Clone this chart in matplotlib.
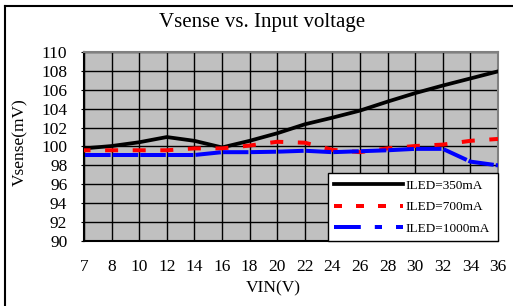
import matplotlib
matplotlib.use("Agg")
import matplotlib.pyplot as plt
from matplotlib.lines import Line2D
import numpy as np

vin_labels = ["7", "8", "10", "12", "14", "16", "18", "20", "22", "24", "26", "28", "30", "32", "34", "36"]
ild_350 = [99.8, 100.05, 100.45, 101.0, 100.6, 99.9, 100.6, 101.4, 102.35, 103.05, 103.8, 104.75, 105.65, 106.45, 107.2, 107.95]
ild_700 = [99.6, 99.6, 99.6, 99.6, 99.8, 99.8, 100.1, 100.5, 100.4, 99.65, 99.4, 99.8, 100.05, 100.2, 100.6, 100.8]
ild_1000 = [99.1, 99.1, 99.1, 99.1, 99.1, 99.4, 99.4, 99.45, 99.55, 99.4, 99.5, 99.6, 99.75, 99.75, 98.4, 98.0]
y_ticks = list(range(90, 111, 2))

plt.rcParams['font.family'] = ['Liberation Serif', 'DejaVu Serif']

W, H = 513, 306
fig = plt.figure(figsize=(W / 100, H / 100), dpi=100)
fig.patch.set_facecolor('white')

ax = fig.add_axes([84 / W, 1 - 241 / H, 414 / W, 189 / H])
ax.set_facecolor('#c0c0c0')
x = np.arange(len(vin_labels))

lw = 2.88  # ~4 px
ax.plot(x, ild_350, color='black', lw=2.7, solid_joinstyle='round', zorder=3)
ax.plot(x, ild_700, color='#ff0000', lw=lw, zorder=4, linestyle=(1.625, (3.25, 3.65)))
ax.plot(x, ild_1000, color='#0000ff', lw=lw, zorder=5, linestyle=(6.65, (6.4, 0.5)))

ax.set_xlim(0, len(vin_labels) - 1)
ax.set_ylim(90, 110)
ax.set_xticks(x)
ax.set_xticklabels(vin_labels)
ax.set_yticks(y_ticks)
ax.grid(True, color='black', lw=1.0, zorder=1)
ax.set_axisbelow(True)
ax.tick_params(axis='x', length=0, pad=13, labelsize=12.5)
ax.tick_params(axis='y', length=2, pad=10, labelsize=12.5)
for s in ['left', 'bottom']:
    ax.spines[s].set_color('black')
    ax.spines[s].set_linewidth(1.5)
for s in ['top', 'right']:
    ax.spines[s].set_color('#808080')
    ax.spines[s].set_linewidth(1.5)

h1 = Line2D([], [], color='black', lw=2.7)
h2 = Line2D([], [], color='#ff0000', lw=lw, linestyle=(0, (2.0, 3.5)))
h3 = Line2D([], [], color='#0000ff', lw=lw, linestyle=(0, (6.7, 3.5, 1.8, 3.5)))
leg = ax.legend([h1, h2, h3], ["ILED=350mA", "ILED=700mA", "ILED=1000mA"],
                loc='lower left', bbox_to_anchor=((328 - 84) / 414, 0, 170 / 414, 0.344),
                mode='expand', fontsize=9.5, handlelength=5.2, handletextpad=0.25,
                labelspacing=0.72, borderpad=0.45, borderaxespad=0,
                fancybox=False, framealpha=1, edgecolor='black', facecolor='white')
leg.get_frame().set_linewidth(1.0)
leg.set_zorder(10)

fig.text(262 / W, 1 - 23 / H, "Vsense vs. Input voltage", ha='center', va='center', fontsize=15)
fig.text(20 / W, 1 - 142 / H, "Vsense(mV)", ha='center', va='center', rotation=90, fontsize=12.5)
fig.text(273 / W, 1 - 288 / H, "VIN(V)", ha='center', va='center', fontsize=12.5)

# outer frame (top and left only)
fig.add_artist(Line2D([5 / W, 1], [1 - 6.3 / H, 1 - 6.3 / H], color='black', lw=1.5, transform=fig.transFigure))
fig.add_artist(Line2D([5 / W, 5 / W], [1 - 6.3 / H, 0], color='black', lw=1.5, transform=fig.transFigure))

fig.savefig("out.png", dpi=100, facecolor='white')
